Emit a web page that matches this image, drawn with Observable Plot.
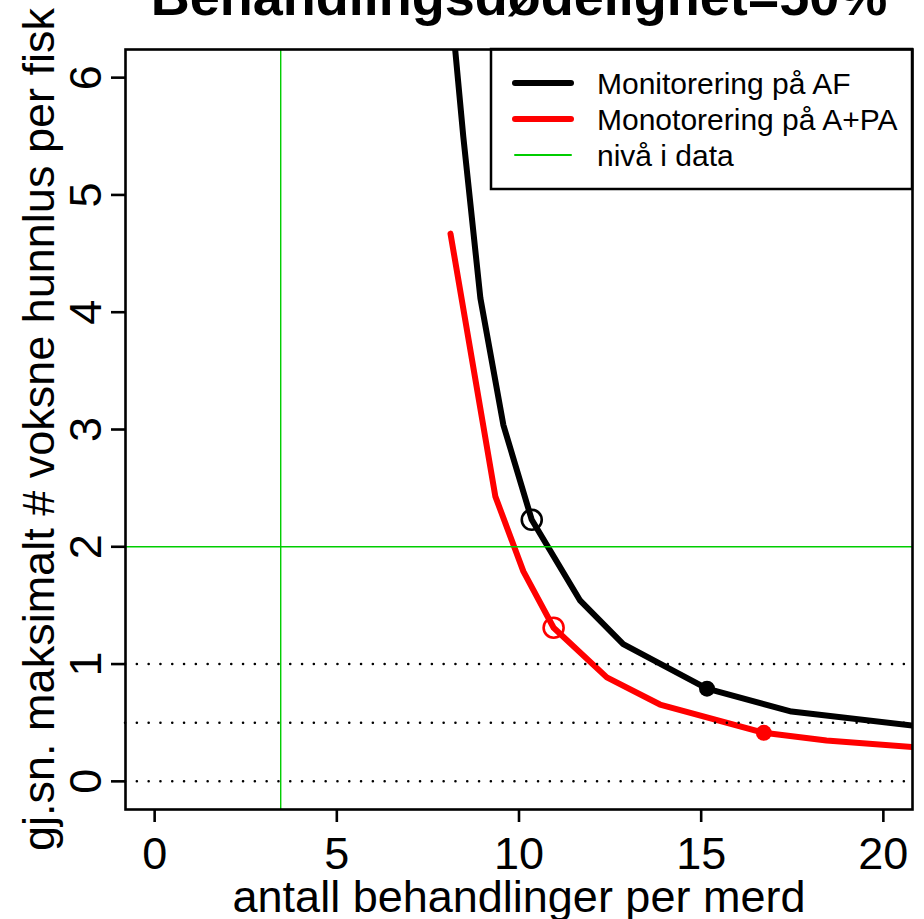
<!DOCTYPE html>
<html><head><meta charset="utf-8">
<script src="https://cdn.jsdelivr.net/npm/d3@7"></script>
<script src="https://cdn.jsdelivr.net/npm/@observablehq/plot@0.6"></script>
<style>html,body{margin:0;padding:0;background:#fff;overflow:hidden}</style>
</head><body><div id="chart"></div>
<script>
const title = "Behandlingsdødelighet=50%";
const xLabel = "antall behandlinger per merd";
const yLabel = "gj.sn. maksimalt # voksne hunnlus per fisk";
const xTicks = [0, 5, 10, 15, 20];
const yTicks = [0, 1, 2, 3, 4, 5, 6];

// Monitorering på AF (black)
const afX = [7.9, 8.47, 8.94, 9.57, 10.35, 11.68, 12.86, 15.16, 17.48, 21.5];
const afY = [7.4, 5.5, 4.12, 3.04, 2.23, 1.54, 1.17, 0.79, 0.595, 0.45];
// Monotorering på A+PA (red)
const apaX = [8.12, 9.35, 10.12, 10.95, 12.41, 13.87, 16.72, 18.44, 21.5];
const apaY = [4.67, 2.43, 1.79, 1.31, 0.887, 0.655, 0.414, 0.349, 0.275];

// marked points
const openX = [10.35, 10.95];
const openY = [2.23, 1.31];
const openColor = ["black", "#ff0000"];
const filledX = [15.16, 16.72];
const filledY = [0.79, 0.414];
const filledColor = ["black", "#ff0000"];

// reference lines
const dottedLevels = [0, 0.5, 1];
const dataLevelY = [2];
const dataLevelX = [3.46];

const legendLabels = ["Monitorering på AF", "Monotorering på A+PA", "nivå i data"];
const legendColors = ["black", "#ff0000", "#00cd00"];
const legendWidths = [6, 6, 2];

const afData = afX.map((x, i) => ({x, y: afY[i]}));
const apaData = apaX.map((x, i) => ({x, y: apaY[i]}));
const openData = openX.map((x, i) => ({x, y: openY[i], c: openColor[i]}));
const filledData = filledX.map((x, i) => ({x, y: filledY[i], c: filledColor[i]}));

function legendMark(index, scales, values, dims) {
  const g = d3.create("svg:g");
  const right = dims.width - dims.marginRight;
  const top = dims.marginTop;
  const w = 421, h = 140;
  const left = right - w;
  g.append("rect").attr("x", left).attr("y", top).attr("width", w).attr("height", h)
    .attr("fill", "white").attr("stroke", "black").attr("stroke-width", 2.5);
  legendLabels.forEach((lab, i) => {
    const yy = top + 34 + i * 36;
    g.append("line").attr("x1", left + 24).attr("x2", left + 80).attr("y1", yy).attr("y2", yy)
      .attr("stroke", legendColors[i]).attr("stroke-width", legendWidths[i]).attr("stroke-linecap", "round");
    g.append("text").attr("x", left + 106).attr("y", yy).attr("dy", "0.37em")
      .attr("text-anchor", "start").attr("font-size", 30).attr("fill", "black").text(lab);
  });
  return g.node();
}

const chart = Plot.plot({
  width: 924,
  height: 919,
  marginLeft: 125,
  marginRight: 12,
  marginTop: 49,
  marginBottom: 110,
  style: {fontFamily: "'Liberation Sans', Arial, Helvetica, sans-serif", color: "black", background: "white"},
  x: {domain: [-0.8, 20.8]},
  y: {domain: [-0.24, 6.24]},
  color: {type: "identity"},
  marks: [
    Plot.line(afData, {x: "x", y: "y", stroke: "black", strokeWidth: 6, clip: true}),
    Plot.line(apaData, {x: "x", y: "y", stroke: "#ff0000", strokeWidth: 6, clip: true}),
    Plot.dot(openData, {x: "x", y: "y", r: 10, stroke: "c", strokeWidth: 2.6, fill: "none"}),
    Plot.dot(filledData, {x: "x", y: "y", r: 8, fill: "c", stroke: "none"}),
    Plot.ruleY(dottedLevels, {stroke: "black", strokeWidth: 2.5, strokeDasharray: "0.1 11.7", strokeLinecap: "round"}),
    Plot.ruleY(dataLevelY, {stroke: "#00cd00", strokeWidth: 1.4}),
    Plot.ruleX(dataLevelX, {stroke: "#00cd00", strokeWidth: 1.4}),
    legendMark,
    Plot.frame({stroke: "black", strokeWidth: 2.6}),
    Plot.axisX({ticks: xTicks, tickSize: 13, tickFormat: () => "", strokeWidth: 2.6, label: null}),
    Plot.axisY({ticks: yTicks, tickSize: 14, tickFormat: () => "", strokeWidth: 2.6, label: null}),
    Plot.text(xTicks, {x: d => d, text: d => String(d), frameAnchor: "bottom", dy: 28,
      lineAnchor: "top", fontSize: 45}),
    Plot.text(yTicks, {y: d => d, text: d => String(d), frameAnchor: "left", dx: -25, rotate: -90,
      textAnchor: "middle", lineAnchor: "bottom", fontSize: 45}),
    Plot.text([xLabel], {frameAnchor: "bottom", dy: 102, lineAnchor: "bottom", fontSize: 45}),
    Plot.text([yLabel], {frameAnchor: "left", dx: -72, rotate: -90, textAnchor: "middle", lineAnchor: "bottom", fontSize: 45}),
    Plot.text([title], {frameAnchor: "top", dy: -35, lineAnchor: "bottom", fontSize: 54, fontWeight: "bold"})
  ]
});
document.getElementById("chart").appendChild(chart);
</script>
</body></html>
